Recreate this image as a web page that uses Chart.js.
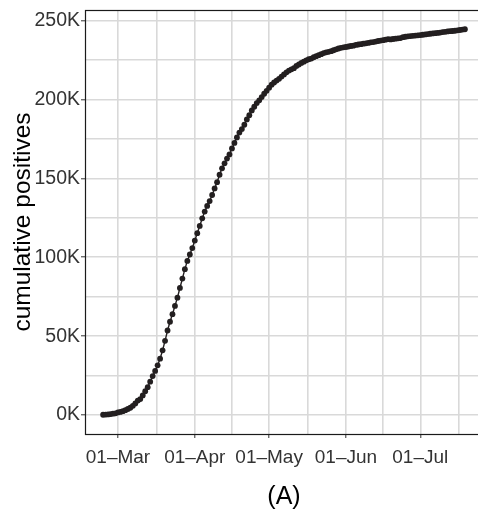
<!DOCTYPE html>
<html><head><meta charset="utf-8">
<script src="https://cdn.jsdelivr.net/npm/chart.js@4.4.1/dist/chart.umd.min.js"></script>
<style>html,body{margin:0;padding:0;background:#fff;overflow:hidden}
#wrap{width:490px;height:514px;position:relative}</style>
</head><body><div id="wrap"><canvas id="c"></canvas></div>
<script>
// ---- data ----
const startDate = '2020-02-24';           // first daily observation
const cumulativePositives = [
  229,322,400,650,888,1128,
  1694,2036,2502,3089,3858,4636,5883,7375,9172,10149,12462,15113,17660,21157,24747,27980,31506,35713,41035,47021,53578,59138,63927,69176,74386,80539,86498,92472,97689,101739,105792,
  110574,115242,119827,124632,128948,132547,135586,139422,143626,147577,152271,156363,159516,162488,165155,168941,172434,175925,178972,181228,183957,187327,189973,192994,195351,197675,199414,201505,203591,205463,
  207428,209328,210717,211938,213013,214457,215858,217185,218268,219070,219814,221216,222104,223096,223885,224760,225435,225886,226699,227364,228006,228658,229327,229858,230158,230555,231139,231732,232248,232664,233019,
  233197,233515,233836,234013,234531,234801,234998,235278,235561,235763,236142,236305,236651,236989,237290,237500,237828,238159,238011,238275,238499,238720,238833,239410,239706,239961,240136,240310,240436,240578,
  240760,240961,241184,241419,241611,241819,241956,242149,242363,242639,242827,243061,243230,243344,243506,243736,243967,244216,244434
];
const xTickDates  = ['2020-03-01','2020-04-01','2020-05-01','2020-06-01','2020-07-01','2020-08-01'];
const xTickLabels = ['01–Mar','01–Apr','01–May','01–Jun','01–Jul','01–Aug'];
const yTickValues = [0,50000,100000,150000,200000,250000];
const yTickLabels = ['0K','50K','100K','150K','200K','250K'];
const yAxisTitle = 'cumulative positives';
const xAxisTitle = '(A)';

// ---- helpers ----
const DAY = 86400000;
const ref = Date.UTC(2020,2,1);
const dayOf = s => { const [y,m,d] = s.split('-').map(Number); return (Date.UTC(y,m-1,d)-ref)/DAY; };
const start = dayOf(startDate);
const points = cumulativePositives.map((v,i)=>({x:start+i, y:v}));
const xMajor = xTickDates.map(dayOf);
const xMinor = []; for (let i=0;i<xMajor.length-1;i++) xMinor.push((xMajor[i]+xMajor[i+1])/2);
const yMinor = []; for (let i=0;i<yTickValues.length-1;i++) yMinor.push((yTickValues[i]+yTickValues[i+1])/2);

// ggplot-like 5% expansion
const xs = points.map(p=>p.x), ys = cumulativePositives;
const xr = Math.max(...xs)-Math.min(...xs), yr = Math.max(...ys)-Math.min(...ys);
const xMin = Math.min(...xs)-0.05*xr, xMax = Math.max(...xs)+0.05*xr;
const yMin = Math.min(...ys)-0.05*yr, yMax = Math.max(...ys)+0.05*yr;

const FONT = "'Liberation Sans', Arial, Helvetica, sans-serif";
const GRID = '#d9d9d9';

const borderPlugin = {
  id:'panelBorder',
  afterDraw(chart){
    const {ctx, chartArea:a} = chart;
    ctx.save();
    ctx.strokeStyle = '#1a1a1a'; ctx.lineWidth = 1.2;
    ctx.strokeRect(a.left+0.5, a.top+0.5, a.right-a.left, a.bottom-a.top);
    ctx.restore();
  }
};

new Chart(document.getElementById('c'), {
  type:'line',
  data:{ datasets:[{
    data: points,
    borderColor:'#231f20', borderWidth:1.4,
    pointRadius:2.9, pointBackgroundColor:'#231f20', pointBorderWidth:0,
    pointHoverRadius:2.9, tension:0
  }]},
  options:{
    responsive:true, maintainAspectRatio:false, animation:false, devicePixelRatio:1,
    layout:{ padding:{ top:10, right:7, left:0, bottom:0 } },
    plugins:{ legend:{display:false}, tooltip:{enabled:false} },
    scales:{
      x:{
        type:'linear', min:xMin, max:xMax,
        afterBuildTicks(s){ s.ticks = [...xMajor, ...xMinor].filter(v=>v>=xMin&&v<=xMax).sort((a,b)=>a-b).map(v=>({value:v})); },
        afterFit(s){ s.height = 80; s.paddingLeft = 0; s.paddingRight = 0; },
        ticks:{ autoSkip:false, maxRotation:0, padding:8, color:'#333333', font:{family:FONT,size:19},
          callback(v){ const i = xMajor.indexOf(v); return i>=0 ? xTickLabels[i] : ''; } },
        grid:{ color:GRID, lineWidth:1.6, drawTicks:true, tickLength:4,
          tickColor:c=> xMajor.includes(c.tick && c.tick.value) ? '#333333' : 'rgba(0,0,0,0)', tickWidth:1 },
        border:{ display:false },
        title:{ display:true, text:xAxisTitle, color:'#000', font:{family:FONT,size:25}, padding:{top:0,bottom:2} }
      },
      y:{
        type:'linear', min:yMin, max:yMax,
        afterBuildTicks(s){ s.ticks = [...yTickValues, ...yMinor].sort((a,b)=>a-b).map(v=>({value:v})); },
        afterFit(s){ s.width = 85; s.paddingTop = 0; s.paddingBottom = 0; },
        ticks:{ autoSkip:false, padding:1, color:'#333333', font:{family:FONT,size:19.5},
          callback(v){ const i = yTickValues.indexOf(v); return i>=0 ? yTickLabels[i] : ''; } },
        grid:{ color:GRID, lineWidth:1.6, drawTicks:true, tickLength:4,
          tickColor:c=> yTickValues.includes(c.tick && c.tick.value) ? '#333333' : 'rgba(0,0,0,0)', tickWidth:1 },
        border:{ display:false },
        title:{ display:true, text:yAxisTitle, color:'#000', font:{family:FONT,size:24.5}, padding:{top:9,bottom:0} }
      }
    }
  },
  plugins:[borderPlugin]
});
</script>
</body></html>
